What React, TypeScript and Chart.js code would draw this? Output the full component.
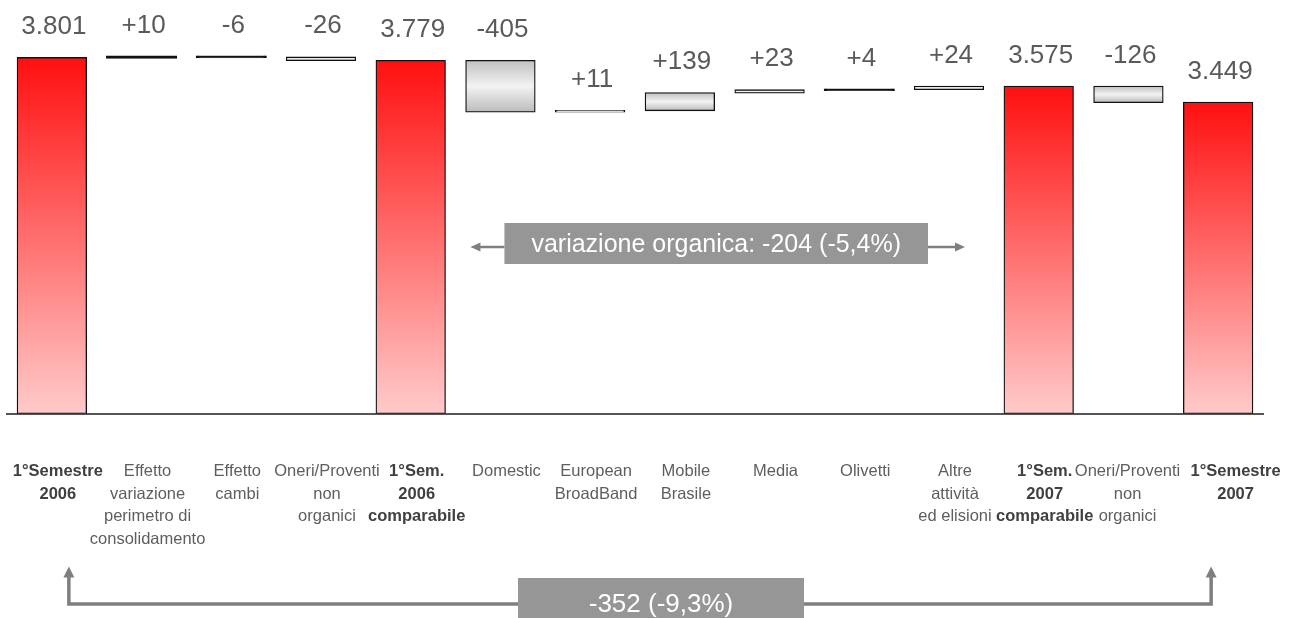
import React, { useEffect, useRef } from 'react';
import { Chart, registerables } from 'chart.js';

Chart.register(...registerables);

// ---- data ----
const categories: string[][] = [
  ['1°Semestre', '2006'],
  ['Effetto', 'variazione', 'perimetro di', 'consolidamento'],
  ['Effetto', 'cambi'],
  ['Oneri/Proventi', 'non', 'organici'],
  ['1°Sem.', '2006', 'comparabile'],
  ['Domestic'],
  ['European', 'BroadBand'],
  ['Mobile', 'Brasile'],
  ['Media'],
  ['Olivetti'],
  ['Altre', 'attività', 'ed elisioni'],
  ['1°Sem.', '2007', 'comparabile'],
  ['Oneri/Proventi   ', 'non   ', 'organici   '],
  ['     1°Semestre', '     2007'],
];
const values: number[] = [3801, 10, -6, -26, 3779, -405, 11, 139, 23, 4, 24, 3575, -126, 3449];
const isTotal: boolean[] = [true, false, false, false, true, false, false, false, false, false, false, true, false, true];
const Y_MIN = 1000;
const Y_MAX = 4200;
const organicNote = 'variazione organica: -204 (-5,4%)';
const organicFrom = 5;
const organicTo = 10;
const totalNote = '-352 (-9,3%)';
const totalFrom = 0;
const totalTo = 13;

const FONT = '"Liberation Sans", Arial, Helvetica, sans-serif';

function buildRanges(): [number, number][] {
  let running = 0;
  return values.map((v, i) => {
    if (isTotal[i]) {
      running = v;
      return [Y_MIN, v] as [number, number];
    }
    const start = running;
    running += v;
    return [start, running] as [number, number];
  });
}

function labelText(i: number): string {
  const v = values[i];
  if (isTotal[i]) {
    return `${Math.floor(v / 1000)}.${String(v % 1000).padStart(3, '0')}`;
  }
  return v > 0 ? `+${v}` : `${v}`;
}

function isTiny(i: number): boolean {
  return !isTotal[i] && Math.abs(values[i]) <= 10;
}

function barFill(c: any) {
  const chart = c.chart;
  const i = c.dataIndex;
  if (isTiny(i)) return '#111111';
  const fallback = isTotal[i] ? '#ff5050' : '#dddddd';
  if (!chart.chartArea || !chart.scales || !chart.scales.y) return fallback;
  const raw = c.raw as [number, number];
  if (!Array.isArray(raw)) return fallback;
  const y = chart.scales.y;
  const top = y.getPixelForValue(Math.max(raw[0], raw[1]));
  const bot = y.getPixelForValue(Math.min(raw[0], raw[1]));
  if (!isFinite(top) || !isFinite(bot) || bot - top < 0.5) return fallback;
  const g = chart.ctx.createLinearGradient(0, top, 0, bot);
  if (isTotal[i]) {
    g.addColorStop(0, '#ff1010');
    g.addColorStop(1, '#ffcaca');
  } else {
    g.addColorStop(0, '#c0c0c0');
    g.addColorStop(0.5, '#f3f3f3');
    g.addColorStop(1, '#bcbcbc');
  }
  return g;
}

function arrowHead(ctx: CanvasRenderingContext2D, tipX: number, tipY: number, dir: 'left' | 'right' | 'up', len: number, half: number) {
  ctx.beginPath();
  if (dir === 'left') {
    ctx.moveTo(tipX, tipY);
    ctx.lineTo(tipX + len, tipY - half);
    ctx.lineTo(tipX + len, tipY + half);
  } else if (dir === 'right') {
    ctx.moveTo(tipX, tipY);
    ctx.lineTo(tipX - len, tipY - half);
    ctx.lineTo(tipX - len, tipY + half);
  } else {
    ctx.moveTo(tipX, tipY);
    ctx.lineTo(tipX - half, tipY + len);
    ctx.lineTo(tipX + half, tipY + len);
  }
  ctx.closePath();
  ctx.fill();
}

const overlayPlugin = {
  id: 'overlay',
  afterDraw(chart: any) {
    const ctx: CanvasRenderingContext2D = chart.ctx;
    const meta = chart.getDatasetMeta(0);
    const xs = chart.scales.x;
    ctx.save();

    // value labels
    ctx.font = `26px ${FONT}`;
    ctx.fillStyle = '#5a5a5a';
    ctx.textAlign = 'center';
    ctx.textBaseline = 'middle';
    meta.data.forEach((el: any, i: number) => {
      const top = Math.min(el.y, el.base);
      ctx.fillText(labelText(i), el.x + 2, top - 31);
    });

    // organic variation annotation
    const grey = '#7f7f7f';
    const boxGrey = '#969696';
    const oL = xs.getPixelForValue(organicFrom) + 4;
    const oR = xs.getPixelForValue(organicTo) - 21;
    const oTipL = xs.getPixelForValue(organicFrom) - 30;
    const oTipR = xs.getPixelForValue(organicTo) + 16;
    const oY = 247;
    ctx.strokeStyle = grey;
    ctx.fillStyle = grey;
    ctx.lineWidth = 2.5;
    ctx.beginPath();
    ctx.moveTo(oL, oY);
    ctx.lineTo(oTipL + 8, oY);
    ctx.moveTo(oR, oY);
    ctx.lineTo(oTipR - 8, oY);
    ctx.stroke();
    arrowHead(ctx, oTipL, oY, 'left', 10, 4.5);
    arrowHead(ctx, oTipR, oY, 'right', 10, 4.5);
    ctx.fillStyle = boxGrey;
    ctx.fillRect(oL, 223, oR - oL, 41);
    ctx.fillStyle = '#ffffff';
    ctx.font = `25px ${FONT}`;
    ctx.fillText(organicNote, (oL + oR) / 2, 245);

    // total variation annotation
    const tL = xs.getPixelForValue(totalFrom) + 17;
    const tR = xs.getPixelForValue(totalTo) - 7;
    const hY = 604;
    ctx.strokeStyle = grey;
    ctx.fillStyle = grey;
    ctx.lineWidth = 3.5;
    ctx.lineJoin = 'miter';
    ctx.beginPath();
    ctx.moveTo(tL, 576);
    ctx.lineTo(tL, hY);
    ctx.lineTo(tR, hY);
    ctx.lineTo(tR, 576);
    ctx.stroke();
    arrowHead(ctx, tL, 566.5, 'up', 11, 5.5);
    arrowHead(ctx, tR, 566.5, 'up', 11, 5.5);
    ctx.fillStyle = boxGrey;
    ctx.fillRect(518, 578, 286, 40);
    ctx.fillStyle = '#ffffff';
    ctx.font = `26px ${FONT}`;
    ctx.fillText(totalNote, 661, 605);

    ctx.restore();
  },
};

export default function App() {
  const canvasRef = useRef<HTMLCanvasElement | null>(null);

  useEffect(() => {
    if (!canvasRef.current) return;
    const chart = new Chart(canvasRef.current, {
      type: 'bar',
      data: {
        labels: categories as any,
        datasets: [
          {
            data: buildRanges() as any,
            backgroundColor: barFill as any,
            borderColor: '#111111',
            borderWidth: 1.3,
            borderSkipped: false,
            inflateAmount: ((c: any) => (isTiny(c.dataIndex) ? 1 : 0.6)) as any,
            barPercentage: 0.77,
            categoryPercentage: 1,
          } as any,
        ],
      },
      options: {
        animation: false,
        responsive: false,
        events: [],
        layout: { padding: { left: 7, right: 26, top: 7, bottom: 0 } },
        plugins: {
          legend: { display: false },
          tooltip: { enabled: false },
          title: { display: false },
        },
        scales: {
          x: {
            type: 'category',
            grid: { display: false, drawTicks: false },
            border: { display: true, color: '#555555', width: 2 },
            afterFit: (scale: any) => {
              scale.height = 204.5;
              scale.paddingLeft = 0;
              scale.paddingRight = 0;
            },
            ticks: {
              autoSkip: false,
              maxRotation: 0,
              minRotation: 0,
              padding: 47,
              labelOffset: 6,
              font: ((c: any) => ({
                family: FONT,
                size: 16.5,
                weight: isTotal[c.index] ? 'bold' : 'normal',
                lineHeight: 1.36,
              })) as any,
              color: ((c: any) => (isTotal[c.index] ? '#404040' : '#5e5e5e')) as any,
            },
          },
          y: {
            display: false,
            min: Y_MIN,
            max: Y_MAX,
          },
        },
      },
      plugins: [overlayPlugin],
    });
    return () => chart.destroy();
  }, []);

  return (
    <div style={{ position: 'fixed', left: 0, top: 0, width: 1289, height: 618, background: '#ffffff' }}>
      <canvas ref={canvasRef} width={1289} height={618} style={{ width: 1289, height: 618, display: 'block' }} />
    </div>
  );
}
